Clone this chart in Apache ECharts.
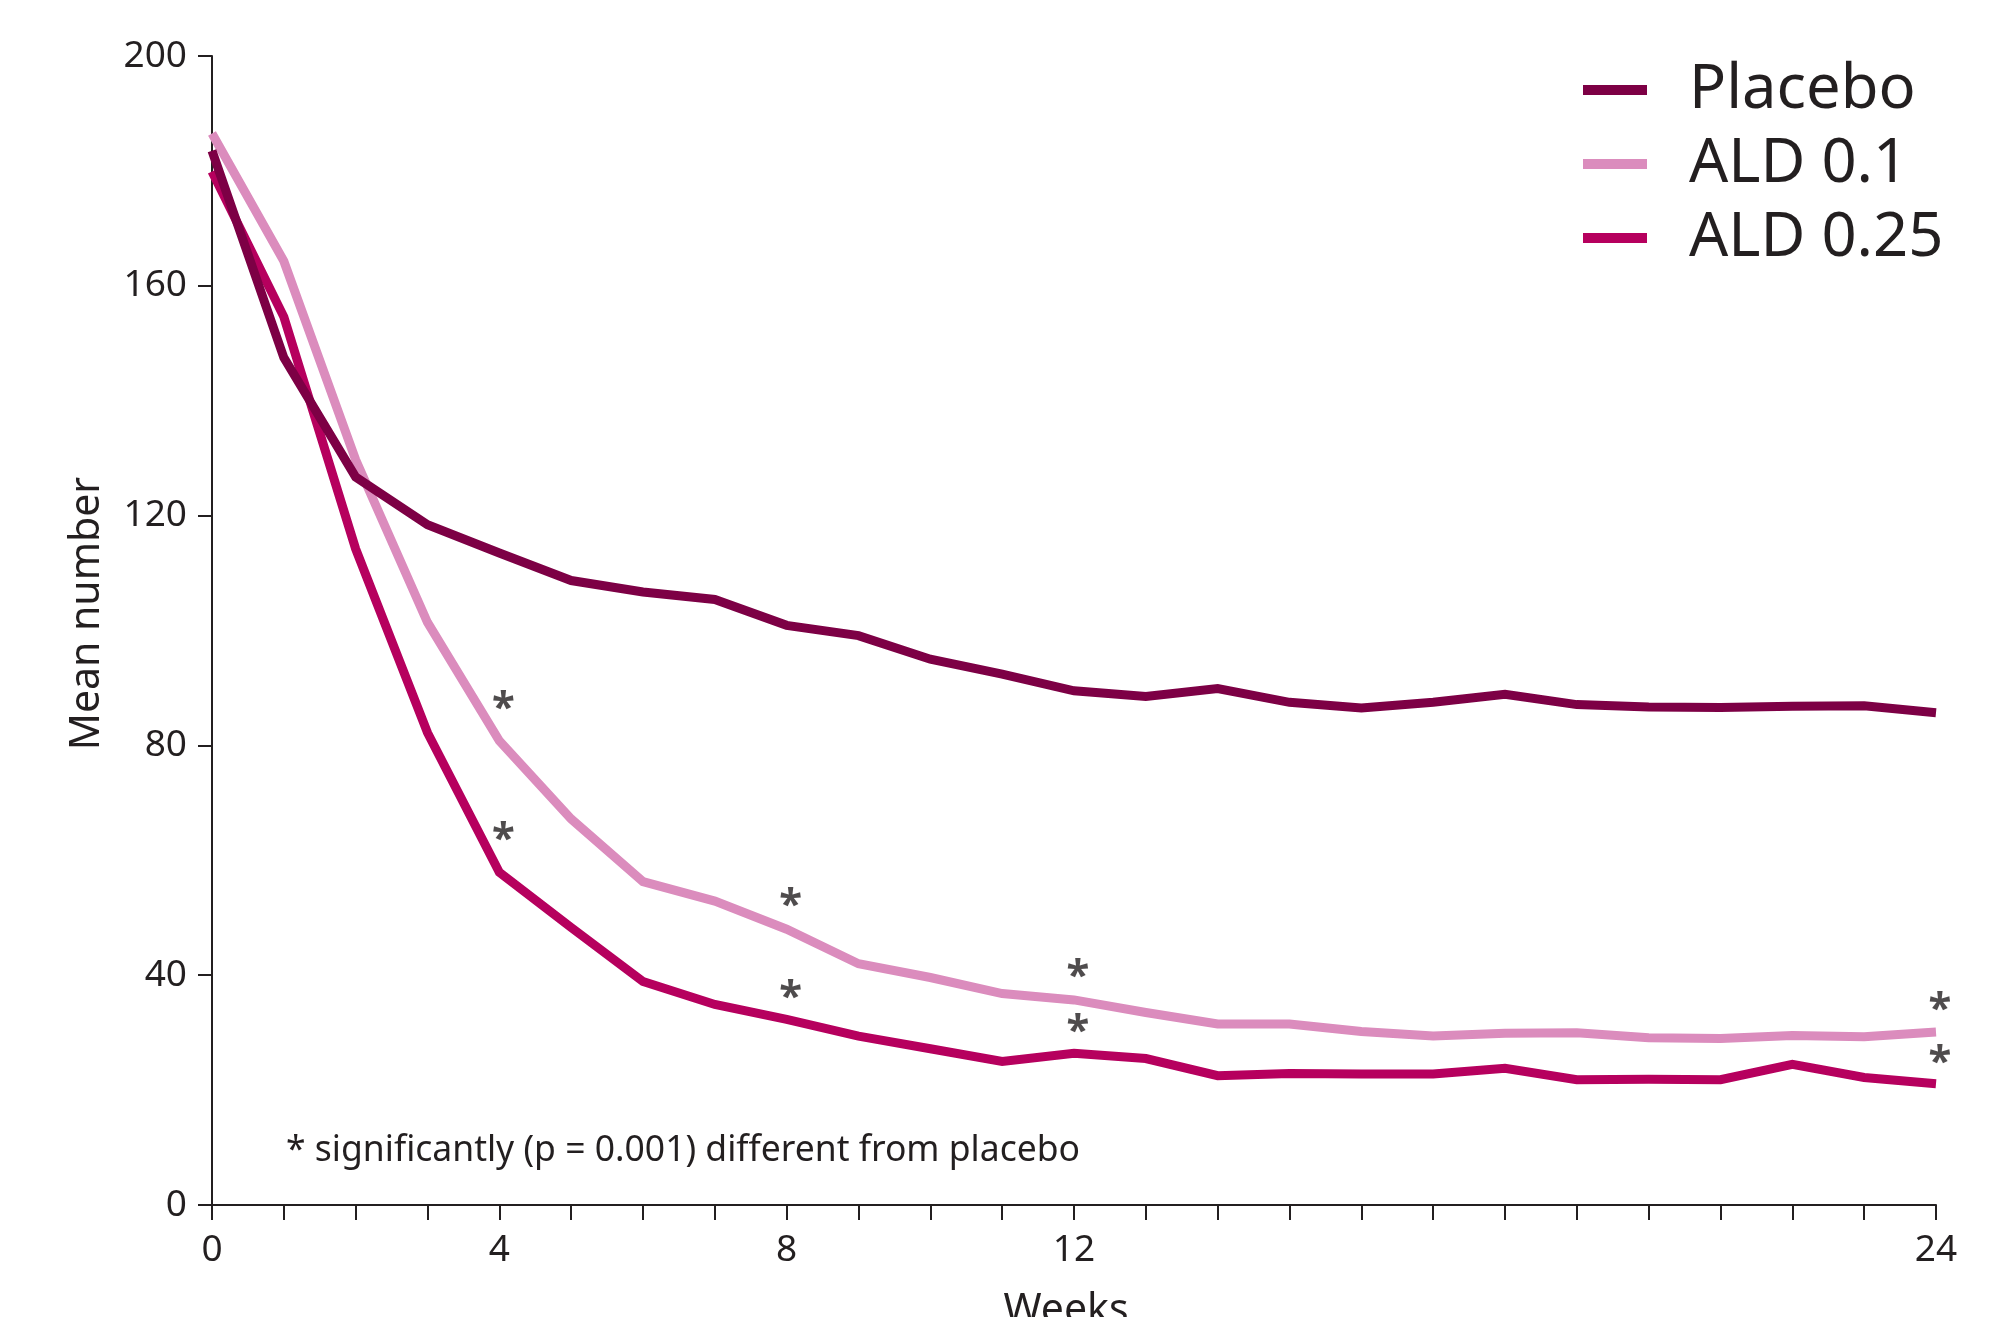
<!DOCTYPE html>
<html>
<head>
<meta charset="utf-8">
<script src="https://cdn.jsdelivr.net/npm/echarts@6/dist/echarts.min.js"></script>
<style>html,body{margin:0;padding:0;background:#fff}#chart{width:2008px;height:1317px}</style>
</head>
<body>
<div id="chart"></div>
<script>
const weeks = [0,1,2,3,4,5,6,7,8,9,10,11,12,13,14,15,16,17,18,19,20,21,22,23,24];
const xTickLabels = [0, 4, 8, 12, 24];
const yTicks = [0, 40, 80, 120, 160, 200];
const placebo = [183.5,147.5,126.7,118.4,113.5,108.7,106.7,105.4,100.9,99.1,95.0,92.4,89.5,88.5,89.9,87.5,86.5,87.5,88.9,87.1,86.7,86.6,86.8,86.9,85.7];
const ald01 =   [186.5,164.3,129.7,101.4,80.8,67.2,56.3,52.9,48.0,42.0,39.6,36.8,35.7,33.5,31.5,31.5,30.2,29.4,29.9,30.0,29.1,29.0,29.5,29.3,30.1];
const ald025 =  [179.9,154.6,114.2,82.2,57.9,48.3,38.9,34.9,32.3,29.4,27.2,25.0,26.4,25.5,22.5,22.9,22.8,22.8,23.8,21.8,21.9,21.8,24.5,22.2,21.1];
const seriesNames = ['Placebo', 'ALD 0.1', 'ALD 0.25'];
const starWeeks = [4, 4, 8, 8, 12, 12, 24, 24];
const starValues = [87.5, 64.7, 53.2, 37.3, 40.9, 31.4, 35.2, 25.9];
const footnote = '* significantly (p = 0.001) different from placebo';
const xName = 'Weeks';
const yName = 'Mean number';

const colors = ['#7d0045', '#db8cbd', '#b6005e'];
const textColor = '#231f20';
const font = 'Noto Sans';

const chart = echarts.init(document.getElementById('chart'), null, {renderer: 'canvas'});
const mk = (arr) => weeks.map((w, i) => [w, arr[i]]);
const lineSeries = [placebo, ald01, ald025].map((arr, i) => ({
  name: seriesNames[i],
  type: 'line',
  data: mk(arr),
  symbol: 'none',
  color: colors[i],
  lineStyle: {width: 9, color: colors[i], join: 'miter'},
  itemStyle: {color: colors[i]},
  z: 3 - i + 2,
  animation: false
}));
lineSeries.push({
  name: 'stars',
  type: 'scatter',
  data: starWeeks.map((w, i) => [w, starValues[i]]),
  symbolSize: 0,
  silent: true,
  label: {
    show: true,
    formatter: '*',
    position: 'inside',
    offset: [4, 7],
    fontSize: 42,
    fontWeight: 'bold',
    fontFamily: font,
    color: textColor
  },
  z: 10,
  animation: false
});

chart.setOption({
  animation: false,
  backgroundColor: '#ffffff',
  textStyle: {fontFamily: font, color: textColor},
  grid: {left: 212, right: 72, top: 56, bottom: 112, containLabel: false, outerBoundsMode: 'none'},
  legend: {
    data: seriesNames,
    orient: 'vertical',
    left: 1578,
    top: 54,
    icon: 'rect',
    itemWidth: 64,
    itemHeight: 10,
    itemGap: 12,
    textStyle: {fontSize: 61.5, fontFamily: font, color: textColor, padding: [0, 0, 0, 37]}
  },
  xAxis: {
    type: 'value',
    min: 0, max: 24, interval: 1,
    name: xName,
    nameLocation: 'middle',
    nameGap: 86,
    nameTextStyle: {fontSize: 41, fontFamily: font, color: textColor, padding: [0, 16, 0, 0]},
    axisLine: {show: true, lineStyle: {color: textColor, width: 2}},
    axisTick: {show: true, length: 15, lineStyle: {color: textColor, width: 2}},
    splitLine: {show: false},
    axisLabel: {
      fontSize: 37, fontFamily: font, color: textColor, margin: 27,
      showMaxLabel: true, showMinLabel: true,
      formatter: (v) => xTickLabels.indexOf(v) >= 0 ? String(v) : ''
    }
  },
  yAxis: {
    type: 'value',
    min: yTicks[0], max: yTicks[yTicks.length - 1], interval: 40,
    name: yName,
    nameLocation: 'middle',
    nameGap: 104,
    nameTextStyle: {fontSize: 41, fontFamily: font, color: textColor, padding: [0, 0, 0, 34]},
    axisLine: {show: true, lineStyle: {color: textColor, width: 2}},
    axisTick: {show: true, length: 14, lineStyle: {color: textColor, width: 2}},
    splitLine: {show: false},
    axisLabel: {fontSize: 37, fontFamily: font, color: textColor, margin: 25}
  },
  graphic: [{
    type: 'text',
    left: 286,
    top: 1133,
    style: {text: footnote, fontSize: 35.5, fontFamily: font, fill: textColor}
  }],
  series: lineSeries
});
</script>
</body>
</html>
